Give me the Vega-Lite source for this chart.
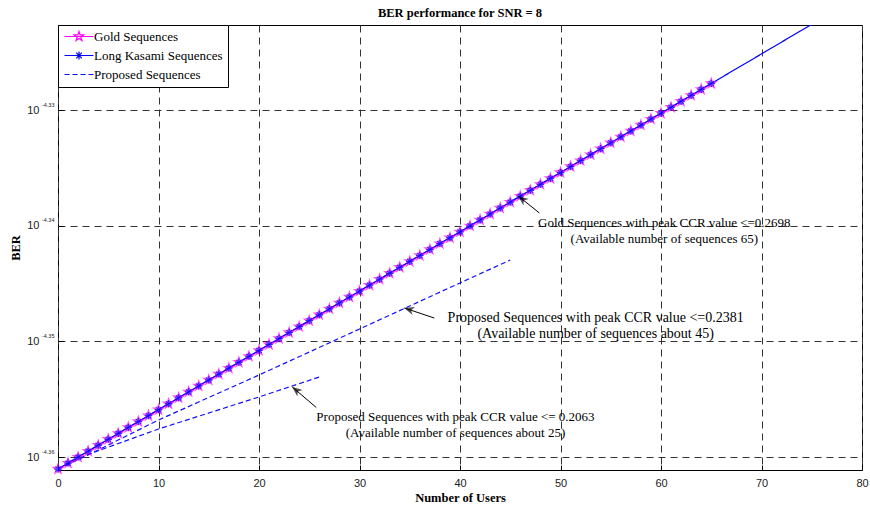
{
  "$schema": "https://vega.github.io/schema/vega-lite/v6.json",
  "width": 804,
  "height": 445,
  "autosize": {"type": "none"},
  "padding": {"left": 58, "top": 25, "right": 8, "bottom": 42},
  "background": "white",
  "title": {"text": "BER performance for SNR = 8", "font": "Liberation Serif", "fontSize": 12.5, "fontWeight": "bold", "color": "#000", "offset": 5, "anchor": "middle"},
  "resolve": {"axis": {"y": "independent"}},
  "config": {
    "view": {"stroke": "#000", "strokeWidth": 1},
    "axis": {
      "grid": true, "gridDash": [7, 5], "gridColor": "#333", "gridWidth": 1,
      "domain": false, "ticks": true, "tickSize": -5, "tickColor": "#000",
      "labelFont": "Liberation Sans", "labelFontSize": 11, "labelColor": "#222", "labelFlush": false,
      "titleFont": "Liberation Serif", "titleFontSize": 12.5, "titleFontWeight": "bold", "titleColor": "#000"
    },
    "legend": {
      "title": null, "orient": "top-left", "offset": 0, "symbolSize": 100, "symbolStrokeWidth": 1.3,
      "labelFont": "Liberation Serif", "labelFontSize": 13, "labelColor": "#000", "labelOffset": 18,
      "padding": 5, "rowPadding": 5, "strokeColor": "#000", "fillColor": "#fff", "cornerRadius": 0
    }
  },
  "data": {"values": [
    {"series": "Gold Sequences", "line": "gold", "x": 0, "ber": 4.35472e-5},
    {"series": "Gold Sequences", "line": "gold", "x": 1, "ber": 4.35989e-5},
    {"series": "Gold Sequences", "line": "gold", "x": 2, "ber": 4.36506e-5},
    {"series": "Gold Sequences", "line": "gold", "x": 3, "ber": 4.37023e-5},
    {"series": "Gold Sequences", "line": "gold", "x": 4, "ber": 4.37540e-5},
    {"series": "Gold Sequences", "line": "gold", "x": 5, "ber": 4.38058e-5},
    {"series": "Gold Sequences", "line": "gold", "x": 6, "ber": 4.38575e-5},
    {"series": "Gold Sequences", "line": "gold", "x": 7, "ber": 4.39092e-5},
    {"series": "Gold Sequences", "line": "gold", "x": 8, "ber": 4.39609e-5},
    {"series": "Gold Sequences", "line": "gold", "x": 9, "ber": 4.40126e-5},
    {"series": "Gold Sequences", "line": "gold", "x": 10, "ber": 4.40643e-5},
    {"series": "Gold Sequences", "line": "gold", "x": 11, "ber": 4.41166e-5},
    {"series": "Gold Sequences", "line": "gold", "x": 12, "ber": 4.41690e-5},
    {"series": "Gold Sequences", "line": "gold", "x": 13, "ber": 4.42213e-5},
    {"series": "Gold Sequences", "line": "gold", "x": 14, "ber": 4.42736e-5},
    {"series": "Gold Sequences", "line": "gold", "x": 15, "ber": 4.43260e-5},
    {"series": "Gold Sequences", "line": "gold", "x": 16, "ber": 4.43783e-5},
    {"series": "Gold Sequences", "line": "gold", "x": 17, "ber": 4.44306e-5},
    {"series": "Gold Sequences", "line": "gold", "x": 18, "ber": 4.44829e-5},
    {"series": "Gold Sequences", "line": "gold", "x": 19, "ber": 4.45353e-5},
    {"series": "Gold Sequences", "line": "gold", "x": 20, "ber": 4.45876e-5},
    {"series": "Gold Sequences", "line": "gold", "x": 21, "ber": 4.46406e-5},
    {"series": "Gold Sequences", "line": "gold", "x": 22, "ber": 4.46935e-5},
    {"series": "Gold Sequences", "line": "gold", "x": 23, "ber": 4.47465e-5},
    {"series": "Gold Sequences", "line": "gold", "x": 24, "ber": 4.47994e-5},
    {"series": "Gold Sequences", "line": "gold", "x": 25, "ber": 4.48524e-5},
    {"series": "Gold Sequences", "line": "gold", "x": 26, "ber": 4.49053e-5},
    {"series": "Gold Sequences", "line": "gold", "x": 27, "ber": 4.49583e-5},
    {"series": "Gold Sequences", "line": "gold", "x": 28, "ber": 4.50112e-5},
    {"series": "Gold Sequences", "line": "gold", "x": 29, "ber": 4.50642e-5},
    {"series": "Gold Sequences", "line": "gold", "x": 30, "ber": 4.51171e-5},
    {"series": "Gold Sequences", "line": "gold", "x": 31, "ber": 4.51707e-5},
    {"series": "Gold Sequences", "line": "gold", "x": 32, "ber": 4.52242e-5},
    {"series": "Gold Sequences", "line": "gold", "x": 33, "ber": 4.52778e-5},
    {"series": "Gold Sequences", "line": "gold", "x": 34, "ber": 4.53314e-5},
    {"series": "Gold Sequences", "line": "gold", "x": 35, "ber": 4.53850e-5},
    {"series": "Gold Sequences", "line": "gold", "x": 36, "ber": 4.54385e-5},
    {"series": "Gold Sequences", "line": "gold", "x": 37, "ber": 4.54921e-5},
    {"series": "Gold Sequences", "line": "gold", "x": 38, "ber": 4.55457e-5},
    {"series": "Gold Sequences", "line": "gold", "x": 39, "ber": 4.55992e-5},
    {"series": "Gold Sequences", "line": "gold", "x": 40, "ber": 4.56528e-5},
    {"series": "Gold Sequences", "line": "gold", "x": 41, "ber": 4.57070e-5},
    {"series": "Gold Sequences", "line": "gold", "x": 42, "ber": 4.57612e-5},
    {"series": "Gold Sequences", "line": "gold", "x": 43, "ber": 4.58154e-5},
    {"series": "Gold Sequences", "line": "gold", "x": 44, "ber": 4.58697e-5},
    {"series": "Gold Sequences", "line": "gold", "x": 45, "ber": 4.59239e-5},
    {"series": "Gold Sequences", "line": "gold", "x": 46, "ber": 4.59781e-5},
    {"series": "Gold Sequences", "line": "gold", "x": 47, "ber": 4.60323e-5},
    {"series": "Gold Sequences", "line": "gold", "x": 48, "ber": 4.60865e-5},
    {"series": "Gold Sequences", "line": "gold", "x": 49, "ber": 4.61407e-5},
    {"series": "Gold Sequences", "line": "gold", "x": 50, "ber": 4.61949e-5},
    {"series": "Gold Sequences", "line": "gold", "x": 51, "ber": 4.62498e-5},
    {"series": "Gold Sequences", "line": "gold", "x": 52, "ber": 4.63046e-5},
    {"series": "Gold Sequences", "line": "gold", "x": 53, "ber": 4.63595e-5},
    {"series": "Gold Sequences", "line": "gold", "x": 54, "ber": 4.64144e-5},
    {"series": "Gold Sequences", "line": "gold", "x": 55, "ber": 4.64693e-5},
    {"series": "Gold Sequences", "line": "gold", "x": 56, "ber": 4.65241e-5},
    {"series": "Gold Sequences", "line": "gold", "x": 57, "ber": 4.65790e-5},
    {"series": "Gold Sequences", "line": "gold", "x": 58, "ber": 4.66339e-5},
    {"series": "Gold Sequences", "line": "gold", "x": 59, "ber": 4.66887e-5},
    {"series": "Gold Sequences", "line": "gold", "x": 60, "ber": 4.67436e-5},
    {"series": "Gold Sequences", "line": "gold", "x": 61, "ber": 4.67991e-5},
    {"series": "Gold Sequences", "line": "gold", "x": 62, "ber": 4.68546e-5},
    {"series": "Gold Sequences", "line": "gold", "x": 63, "ber": 4.69101e-5},
    {"series": "Gold Sequences", "line": "gold", "x": 64, "ber": 4.69656e-5},
    {"series": "Gold Sequences", "line": "gold", "x": 65, "ber": 4.70211e-5},
    {"series": "Long Kasami Sequences", "line": "kasami", "x": 0, "ber": 4.35472e-5},
    {"series": "Long Kasami Sequences", "line": "kasami", "x": 1, "ber": 4.35989e-5},
    {"series": "Long Kasami Sequences", "line": "kasami", "x": 2, "ber": 4.36506e-5},
    {"series": "Long Kasami Sequences", "line": "kasami", "x": 3, "ber": 4.37023e-5},
    {"series": "Long Kasami Sequences", "line": "kasami", "x": 4, "ber": 4.37540e-5},
    {"series": "Long Kasami Sequences", "line": "kasami", "x": 5, "ber": 4.38058e-5},
    {"series": "Long Kasami Sequences", "line": "kasami", "x": 6, "ber": 4.38575e-5},
    {"series": "Long Kasami Sequences", "line": "kasami", "x": 7, "ber": 4.39092e-5},
    {"series": "Long Kasami Sequences", "line": "kasami", "x": 8, "ber": 4.39609e-5},
    {"series": "Long Kasami Sequences", "line": "kasami", "x": 9, "ber": 4.40126e-5},
    {"series": "Long Kasami Sequences", "line": "kasami", "x": 10, "ber": 4.40643e-5},
    {"series": "Long Kasami Sequences", "line": "kasami", "x": 11, "ber": 4.41166e-5},
    {"series": "Long Kasami Sequences", "line": "kasami", "x": 12, "ber": 4.41690e-5},
    {"series": "Long Kasami Sequences", "line": "kasami", "x": 13, "ber": 4.42213e-5},
    {"series": "Long Kasami Sequences", "line": "kasami", "x": 14, "ber": 4.42736e-5},
    {"series": "Long Kasami Sequences", "line": "kasami", "x": 15, "ber": 4.43260e-5},
    {"series": "Long Kasami Sequences", "line": "kasami", "x": 16, "ber": 4.43783e-5},
    {"series": "Long Kasami Sequences", "line": "kasami", "x": 17, "ber": 4.44306e-5},
    {"series": "Long Kasami Sequences", "line": "kasami", "x": 18, "ber": 4.44829e-5},
    {"series": "Long Kasami Sequences", "line": "kasami", "x": 19, "ber": 4.45353e-5},
    {"series": "Long Kasami Sequences", "line": "kasami", "x": 20, "ber": 4.45876e-5},
    {"series": "Long Kasami Sequences", "line": "kasami", "x": 21, "ber": 4.46406e-5},
    {"series": "Long Kasami Sequences", "line": "kasami", "x": 22, "ber": 4.46935e-5},
    {"series": "Long Kasami Sequences", "line": "kasami", "x": 23, "ber": 4.47465e-5},
    {"series": "Long Kasami Sequences", "line": "kasami", "x": 24, "ber": 4.47994e-5},
    {"series": "Long Kasami Sequences", "line": "kasami", "x": 25, "ber": 4.48524e-5},
    {"series": "Long Kasami Sequences", "line": "kasami", "x": 26, "ber": 4.49053e-5},
    {"series": "Long Kasami Sequences", "line": "kasami", "x": 27, "ber": 4.49583e-5},
    {"series": "Long Kasami Sequences", "line": "kasami", "x": 28, "ber": 4.50112e-5},
    {"series": "Long Kasami Sequences", "line": "kasami", "x": 29, "ber": 4.50642e-5},
    {"series": "Long Kasami Sequences", "line": "kasami", "x": 30, "ber": 4.51171e-5},
    {"series": "Long Kasami Sequences", "line": "kasami", "x": 31, "ber": 4.51707e-5},
    {"series": "Long Kasami Sequences", "line": "kasami", "x": 32, "ber": 4.52242e-5},
    {"series": "Long Kasami Sequences", "line": "kasami", "x": 33, "ber": 4.52778e-5},
    {"series": "Long Kasami Sequences", "line": "kasami", "x": 34, "ber": 4.53314e-5},
    {"series": "Long Kasami Sequences", "line": "kasami", "x": 35, "ber": 4.53850e-5},
    {"series": "Long Kasami Sequences", "line": "kasami", "x": 36, "ber": 4.54385e-5},
    {"series": "Long Kasami Sequences", "line": "kasami", "x": 37, "ber": 4.54921e-5},
    {"series": "Long Kasami Sequences", "line": "kasami", "x": 38, "ber": 4.55457e-5},
    {"series": "Long Kasami Sequences", "line": "kasami", "x": 39, "ber": 4.55992e-5},
    {"series": "Long Kasami Sequences", "line": "kasami", "x": 40, "ber": 4.56528e-5},
    {"series": "Long Kasami Sequences", "line": "kasami", "x": 41, "ber": 4.57070e-5},
    {"series": "Long Kasami Sequences", "line": "kasami", "x": 42, "ber": 4.57612e-5},
    {"series": "Long Kasami Sequences", "line": "kasami", "x": 43, "ber": 4.58154e-5},
    {"series": "Long Kasami Sequences", "line": "kasami", "x": 44, "ber": 4.58697e-5},
    {"series": "Long Kasami Sequences", "line": "kasami", "x": 45, "ber": 4.59239e-5},
    {"series": "Long Kasami Sequences", "line": "kasami", "x": 46, "ber": 4.59781e-5},
    {"series": "Long Kasami Sequences", "line": "kasami", "x": 47, "ber": 4.60323e-5},
    {"series": "Long Kasami Sequences", "line": "kasami", "x": 48, "ber": 4.60865e-5},
    {"series": "Long Kasami Sequences", "line": "kasami", "x": 49, "ber": 4.61407e-5},
    {"series": "Long Kasami Sequences", "line": "kasami", "x": 50, "ber": 4.61949e-5},
    {"series": "Long Kasami Sequences", "line": "kasami", "x": 51, "ber": 4.62498e-5},
    {"series": "Long Kasami Sequences", "line": "kasami", "x": 52, "ber": 4.63046e-5},
    {"series": "Long Kasami Sequences", "line": "kasami", "x": 53, "ber": 4.63595e-5},
    {"series": "Long Kasami Sequences", "line": "kasami", "x": 54, "ber": 4.64144e-5},
    {"series": "Long Kasami Sequences", "line": "kasami", "x": 55, "ber": 4.64693e-5},
    {"series": "Long Kasami Sequences", "line": "kasami", "x": 56, "ber": 4.65241e-5},
    {"series": "Long Kasami Sequences", "line": "kasami", "x": 57, "ber": 4.65790e-5},
    {"series": "Long Kasami Sequences", "line": "kasami", "x": 58, "ber": 4.66339e-5},
    {"series": "Long Kasami Sequences", "line": "kasami", "x": 59, "ber": 4.66887e-5},
    {"series": "Long Kasami Sequences", "line": "kasami", "x": 60, "ber": 4.67436e-5},
    {"series": "Long Kasami Sequences", "line": "kasami", "x": 61, "ber": 4.67991e-5},
    {"series": "Long Kasami Sequences", "line": "kasami", "x": 62, "ber": 4.68546e-5},
    {"series": "Long Kasami Sequences", "line": "kasami", "x": 63, "ber": 4.69101e-5},
    {"series": "Long Kasami Sequences", "line": "kasami", "x": 64, "ber": 4.69656e-5},
    {"series": "Long Kasami Sequences", "line": "kasami", "x": 65, "ber": 4.70211e-5},
    {"series": "Long Kasami Sequences", "line": "kasami", "x": 70, "ber": 4.72986e-5},
    {"series": "Long Kasami Sequences", "line": "kasami", "x": 75, "ber": 4.75786e-5},
    {"series": "Proposed Sequences", "line": "p45", "x": 0, "ber": 4.35472e-5},
    {"series": "Proposed Sequences", "line": "p45", "x": 3, "ber": 4.36690e-5},
    {"series": "Proposed Sequences", "line": "p45", "x": 10, "ber": 4.39743e-5},
    {"series": "Proposed Sequences", "line": "p45", "x": 20, "ber": 4.43700e-5},
    {"series": "Proposed Sequences", "line": "p45", "x": 30, "ber": 4.47780e-5},
    {"series": "Proposed Sequences", "line": "p45", "x": 40, "ber": 4.51904e-5},
    {"series": "Proposed Sequences", "line": "p45", "x": 45, "ber": 4.53976e-5},
    {"series": "Proposed Sequences", "line": "p25", "x": 0, "ber": 4.35472e-5},
    {"series": "Proposed Sequences", "line": "p25", "x": 3, "ber": 4.36740e-5},
    {"series": "Proposed Sequences", "line": "p25", "x": 10, "ber": 4.38956e-5},
    {"series": "Proposed Sequences", "line": "p25", "x": 20, "ber": 4.41761e-5},
    {"series": "Proposed Sequences", "line": "p25", "x": 26, "ber": 4.43523e-5}
  ]},
  "layer": [
    {
      "mark": {"type": "line", "clip": true},
      "encoding": {
        "x": {"field": "x", "type": "quantitative", "title": "Number of Users",
              "scale": {"domain": [0, 80], "nice": false},
              "axis": {"values": [0, 10, 20, 30, 40, 50, 60, 70, 80], "labelPadding": 12, "titlePadding": 3}},
        "y": {"field": "ber", "type": "quantitative", "title": "BER",
              "scale": {"type": "log", "domain": [4.35388e-5, 4.75717e-5], "nice": false, "zero": false},
              "axis": {"values": [4.365158e-5, 4.466836e-5, 4.570882e-5, 4.677351e-5], "labelPadding": 24, "titlePadding": 4,
                       "labelExpr": "'10'"}},
        "color": {"field": "series", "type": "nominal",
                  "scale": {"domain": ["Gold Sequences", "Long Kasami Sequences", "Proposed Sequences"], "range": ["#ff00ff", "#0000ff", "#1010ff"]},
                  "legend": {"encode": {"symbols": {"update": {"shape": {"signal": "datum.value === 'Gold Sequences' ? 'M-1,0L4.8,0M1.9,-1L2.1245,-0.309L2.851,-0.309L2.2633,0.118L2.488,0.809L1.9,0.382L1.312,0.809L1.5367,0.118L0.949,-0.309L1.6755,-0.309Z' : datum.value === 'Long Kasami Sequences' ? 'M-1,0L4.8,0M1.9,-0.8L1.9,0.8M1.34,-0.56L2.46,0.56M1.34,0.56L2.46,-0.56' : 'M-1,0L4.8,0'"}}}}}},
        "strokeDash": {"field": "series", "type": "nominal",
                  "scale": {"domain": ["Gold Sequences", "Long Kasami Sequences", "Proposed Sequences"], "range": [[1, 0], [1, 0], [5, 3]]}},
        "strokeWidth": {"field": "series", "type": "nominal",
                  "scale": {"domain": ["Gold Sequences", "Long Kasami Sequences", "Proposed Sequences"], "range": [1.2, 1.2, 1.8]}, "legend": null},
        "detail": {"field": "line"}
      }
    },
    {
      "transform": [{"filter": "datum.series !== 'Proposed Sequences' && datum.x <= 65"}],
      "mark": {"type": "point", "filled": false, "strokeWidth": 1.3},
      "encoding": {
        "x": {"field": "x", "type": "quantitative"},
        "y": {"field": "ber", "type": "quantitative",
              "axis": {"orient": "left", "values": [4.365158e-5, 4.466836e-5, 4.570882e-5, 4.677351e-5],
                       "grid": false, "ticks": false, "tickSize": 0, "domain": false, "title": null,
                       "labelFontSize": 5.5, "labelPadding": 4, "labelBaseline": "bottom", "labelOffset": -3,
                       "labelExpr": "datum.value < 4.4e-5 ? '-4.36' : datum.value < 4.5e-5 ? '-4.35' : datum.value < 4.6e-5 ? '-4.34' : '-4.33'"}},
        "shape": {"field": "series", "type": "nominal", "legend": null,
                  "scale": {"domain": ["Gold Sequences", "Long Kasami Sequences"],
                            "range": ["M0,-1L0.2245,-0.309L0.951,-0.309L0.3633,0.118L0.588,0.809L0,0.382L-0.588,0.809L-0.3633,0.118L-0.951,-0.309L-0.2245,-0.309Z", "M0,-1L0,1M-1,0L1,0M-0.7,-0.7L0.7,0.7M-0.7,0.7L0.7,-0.7"]}},
        "stroke": {"field": "series", "type": "nominal", "legend": null,
                   "scale": {"domain": ["Gold Sequences", "Long Kasami Sequences"], "range": ["#ff00ff", "#0000ff"]}},
        "size": {"field": "series", "type": "nominal", "legend": null,
                 "scale": {"domain": ["Gold Sequences", "Long Kasami Sequences"], "range": [100, 56]}}
      }
    },
    {
      "data": {"values": [
        {"id": 1, "x": 47.9, "ber": 4.58241e-5, "x2": 45.8, "ber2": 4.59794e-5},
        {"id": 2, "x": 37.44, "ber": 4.48763e-5, "x2": 34.46, "ber2": 4.49657e-5},
        {"id": 3, "x": 25.70, "ber": 4.40839e-5, "x2": 23.31, "ber2": 4.42641e-5}
      ]},
      "mark": {"type": "rule", "color": "#000", "strokeWidth": 1},
      "encoding": {
        "x": {"field": "x", "type": "quantitative"},
        "y": {"field": "ber", "type": "quantitative", "axis": null},
        "x2": {"field": "x2"},
        "y2": {"field": "ber2"}
      }
    },
    {
      "data": {"values": [
        {"id": 1, "x2": 45.8, "ber2": 4.59794e-5},
        {"id": 2, "x2": 34.46, "ber2": 4.49657e-5},
        {"id": 3, "x2": 23.31, "ber2": 4.42641e-5}
      ]},
      "mark": {"type": "point", "filled": true, "color": "#000", "size": 400,
               "shape": "M0,0L-1,-0.42L-0.7,0L-1,0.42Z"},
      "encoding": {
        "x": {"field": "x2", "type": "quantitative"},
        "y": {"field": "ber2", "type": "quantitative", "axis": null},
        "angle": {"condition": {"test": "datum.id === 2", "value": 198}, "value": 219}
      }
    },
    {
      "data": {"values": [
        {"id": 1, "x": 60.33, "ber": 4.57328e-5, "text": "Gold Sequences with peak CCR value <=0.2698\n(Available number of sequences 65)"},
        {"id": 2, "x": 53.5, "ber": 4.48763e-5, "text": "Proposed Sequences with peak CCR value <=0.2381\n(Available number of sequences about 45)"},
        {"id": 3, "x": 39.55, "ber": 4.40006e-5, "text": "Proposed Sequences with peak CCR value <= 0.2063\n(Available number of sequences about 25)"}
      ]},
      "mark": {"type": "text", "font": "Liberation Serif", "color": "#000",
               "align": "center", "baseline": "middle", "lineBreak": "\n", "lineHeight": 16},
      "encoding": {
        "x": {"field": "x", "type": "quantitative"},
        "y": {"field": "ber", "type": "quantitative", "axis": null},
        "text": {"field": "text"},
        "size": {"condition": {"test": "datum.id === 2", "value": 14}, "value": 13}
      }
    }
  ]
}
